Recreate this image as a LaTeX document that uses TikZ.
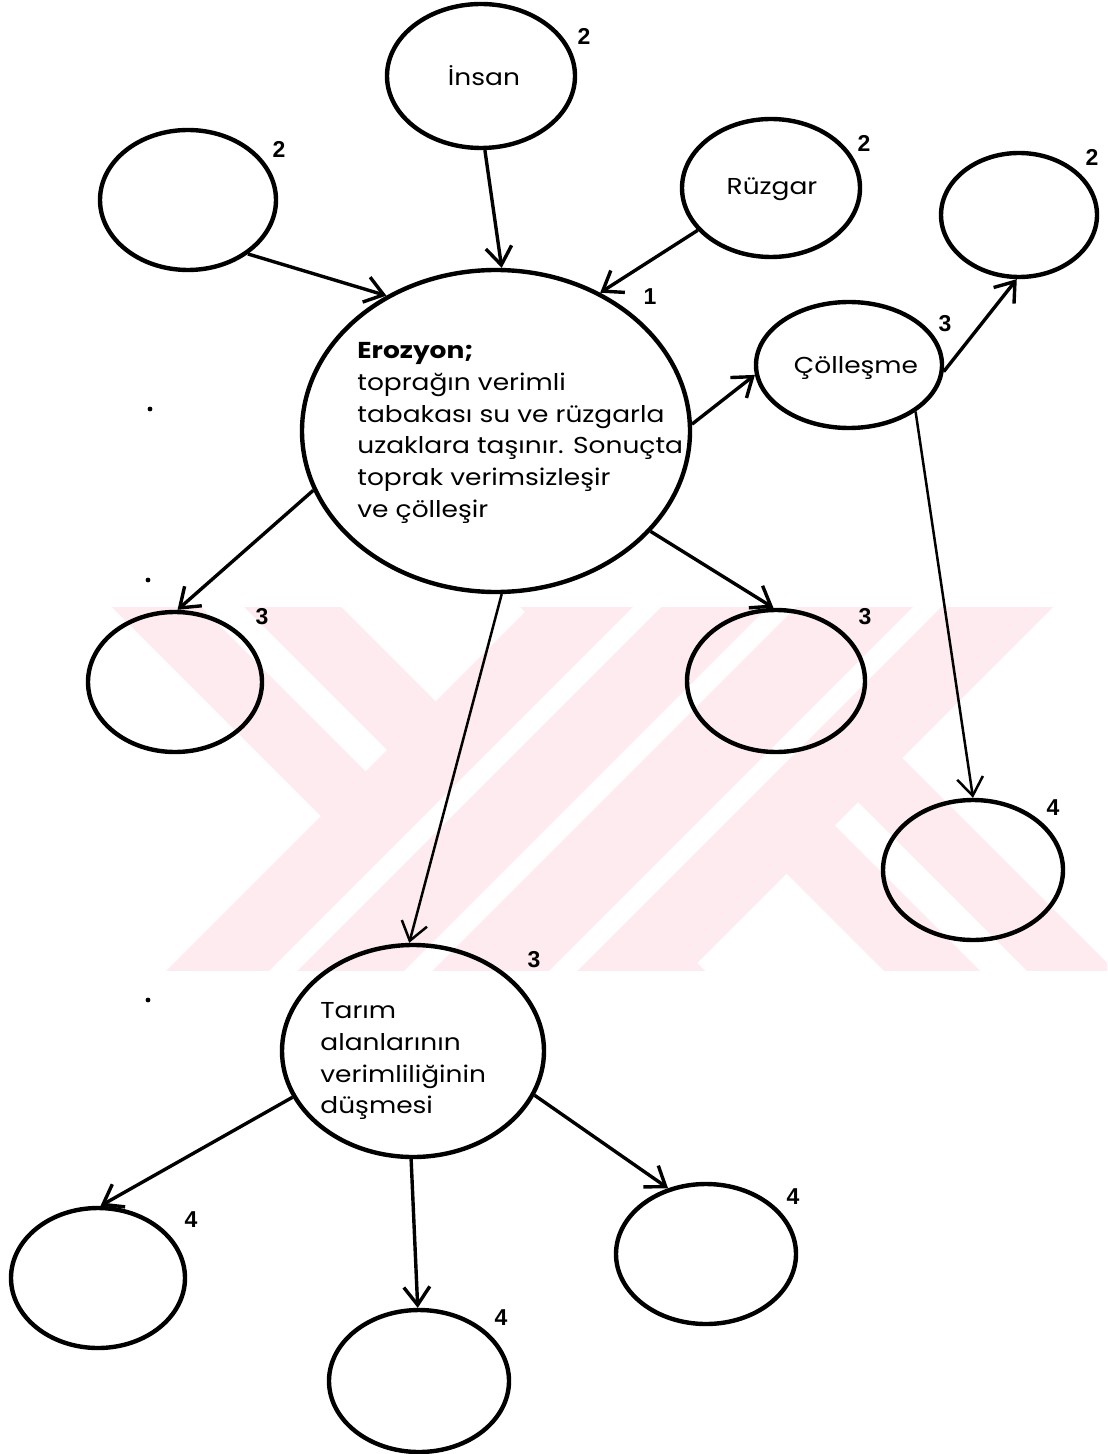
\documentclass[tikz,border=0pt]{standalone}
\usepackage{fontspec}
\setmainfont{Poppins}[FakeStretch=1.15]
\newfontfamily\numfont{Liberation Sans}
\usetikzlibrary{shapes.geometric,arrows.meta}
\definecolor{wmpink}{RGB}{253,235,240}

\begin{document}
\begin{tikzpicture}[x=0.5pt,y=-0.5pt,
  bub/.style={draw=black, line width=2.2pt, ellipse, inner sep=0pt},
  arr/.style={line width=1.7pt, -{Straight Barb[length=9pt,width=13pt]}},
  thinarr/.style={arr, line width=1.25pt},
  lvl/.style={font=\numfont\bfseries\fontsize{11.5}{12}\selectfont, inner sep=0pt},
  lbl/.style={font=\fontsize{11.5}{15.9}\selectfont, inner sep=0pt},
  speck/.style={fill=black}]

\useasboundingbox (0,0) rectangle (1107,1454);
\fill[white] (0,0) rectangle (1107,1454);

% faint background mark
\begin{scope}
  \clip (0,607) rectangle (1107,970);
  \fill[wmpink] (105,600) -- (194,600) -- (574,980) -- (485,980) -- cycle;
  \fill[wmpink] (237,600) -- (334,600) -- (714,980) -- (617,980) -- cycle;
  \fill[wmpink] (513,600) -- (609,600) -- (989,980) -- (893,980) -- cycle;
  \fill[wmpink] (656,600) -- (744,600) -- (1124,980) -- (1036,980) -- cycle;
  \fill[wmpink] (537,600) -- (1060,600) -- (680,980) -- (157,980) -- cycle;
  \fill[white] (640,600) -- (668,600) -- (288,980) -- (260,980) -- cycle;
  \fill[white] (775,600) -- (803,600) -- (423,980) -- (395,980) -- cycle;
  \fill[white] (920,600) -- (948,600) -- (568,980) -- (540,980) -- cycle;
\end{scope}

% bubbles
\node[bub, minimum width=94pt, minimum height=72pt] (insan) at (481,76) {};
\node[bub, minimum width=88pt, minimum height=70pt] (emptyTL) at (188,200) {};
\node[bub, minimum width=89pt, minimum height=69pt] (ruzgar) at (771,188) {};
\node[bub, minimum width=78pt, minimum height=62pt] (emptyTR) at (1019,215) {};
\node[bub, minimum width=93pt, minimum height=63pt] (colles) at (849,365) {};
\node[bub, minimum width=194pt, minimum height=161pt] (eroz) at (496,431) {};
\node[bub, minimum width=87pt, minimum height=70pt] (emptyL3) at (175,682) {};
\node[bub, minimum width=89pt, minimum height=71pt] (emptyR3) at (776,681) {};
\node[bub, minimum width=90pt, minimum height=70pt] (emptyR4) at (973,870) {};
\node[bub, minimum width=131pt, minimum height=106pt] (tarim) at (413,1051) {};
\node[bub, minimum width=87pt, minimum height=70pt] (emptyBa) at (98,1278) {};
\node[bub, minimum width=90pt, minimum height=71pt] (emptyBb) at (419,1381) {};
\node[bub, minimum width=90pt, minimum height=70pt] (emptyBc) at (706,1254) {};

% texts inside bubbles
\node[lbl] (tinsan) at (484,76) {İnsan};
\node[lbl] (truzgar) at (772,189) {Rüzgar};
\node[lbl] (tcolles) at (856,368) {Çölleşme};
\node[lbl, anchor=north west, align=left] (teroz) at (357,342)
  {\textbf{Erozyon;}\\toprağın verimli\\tabakası su ve rüzgarla\\uzaklara taşınır. Sonuçta\\toprak verimsizleşir\\ve çölleşir};
\node[lbl, anchor=north west, align=left] (ttarim) at (320,1002)
  {Tarım\\alanlarının\\verimliliğinin\\düşmesi};

% level numbers
\node[lvl] (n1) at (584,36) {2};
\node[lvl] (n2) at (279,149) {2};
\node[lvl] (n3) at (864,143) {2};
\node[lvl] (n4) at (1092,157) {2};
\node[lvl] (n5) at (945,324) {3};
\node[lvl] (n6) at (650,297) {1};
\node[lvl] (n7) at (262,617) {3};
\node[lvl] (n8) at (865,617) {3};
\node[lvl] (n9) at (1053,808) {4};
\node[lvl] (n10) at (534,960) {3};
\node[lvl] (n11) at (191,1220) {4};
\node[lvl] (n12) at (501,1318) {4};
\node[lvl] (n13) at (793,1197) {4};

% connectors
\draw[arr] (emptyTL.-42.3) -- (eroz.129.3);
\draw[arr] (insan.-87.6) -- (eroz.88.6);
\draw[arr] (ruzgar.210.9) -- (eroz.53.7);
\draw[arr] (eroz.2.9) -- (colles.186.1);
\draw[arr] (colles.-4.3) -- (emptyTR.268.2);
\draw[thinarr] (colles.-35.7) -- (emptyR4.90);
\draw[arr] (eroz.198.5) -- (emptyL3.88.4);
\draw[arr] (eroz.-33.6) -- (emptyR3.92.5);
\draw[thinarr] (eroz.-88.6) -- (tarim.92.2);
\draw[arr] (tarim.201.9) -- (emptyBa.88.4);
\draw[arr] (tarim.-91) -- (emptyBb.91.6);
\draw[arr] (tarim.-20.4) -- (emptyBc.120.7);

% small specks on the sheet
\fill[speck] (150,409) circle (2.4);
\fill[speck] (148,580) circle (2.4);
\fill[speck] (148,1000) circle (2.4);
\end{tikzpicture}
\end{document}
